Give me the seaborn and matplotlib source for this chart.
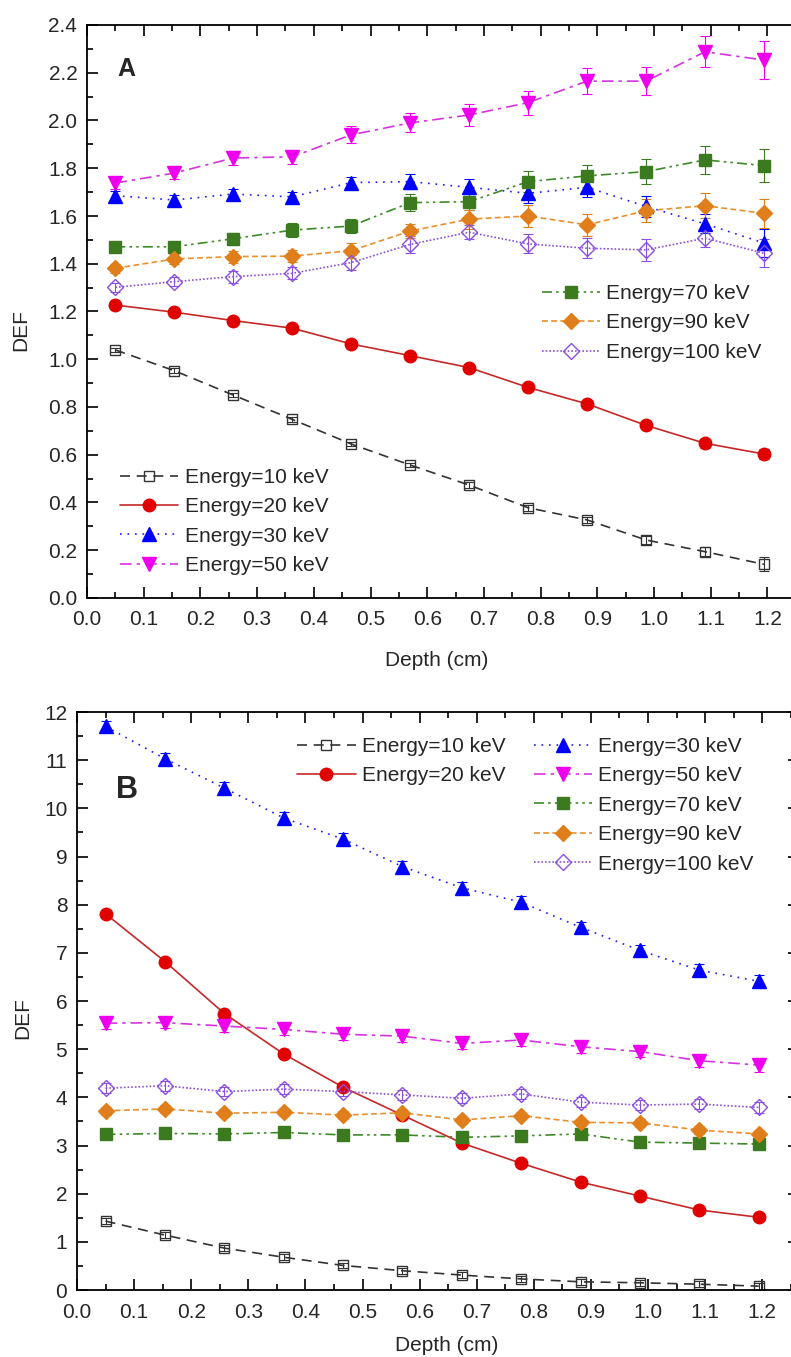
import numpy as np
import pandas as pd
import seaborn as sns
import matplotlib.pyplot as plt
from matplotlib.ticker import MultipleLocator

# --- data ---
depth = [0.05, 0.154, 0.258, 0.362, 0.466, 0.57, 0.674, 0.778, 0.882, 0.986, 1.09, 1.194]
energies = ["10", "20", "30", "50", "70", "90", "100"]

# panel A (DEF values and error bars)
a_10 = [1.039, 0.952, 0.850, 0.748, 0.645, 0.557, 0.473, 0.378, 0.327, 0.243, 0.194, 0.141]
a_20 = [1.227, 1.197, 1.162, 1.130, 1.064, 1.015, 0.965, 0.882, 0.813, 0.723, 0.648, 0.603]
a_30 = [1.685, 1.667, 1.692, 1.680, 1.740, 1.744, 1.720, 1.695, 1.720, 1.640, 1.567, 1.487]
a_50 = [1.738, 1.780, 1.843, 1.848, 1.940, 1.990, 2.023, 2.075, 2.165, 2.165, 2.288, 2.253]
a_70 = [1.471, 1.471, 1.505, 1.541, 1.558, 1.656, 1.660, 1.744, 1.768, 1.786, 1.835, 1.811]
a_90 = [1.381, 1.420, 1.430, 1.432, 1.455, 1.537, 1.587, 1.600, 1.563, 1.622, 1.643, 1.611]
a_100 = [1.301, 1.325, 1.346, 1.360, 1.405, 1.481, 1.532, 1.483, 1.465, 1.458, 1.507, 1.444]

a_10_err = [0.01, 0.01, 0.01, 0.01, 0.01, 0.01, 0.012, 0.012, 0.012, 0.015, 0.02, 0.03]
a_20_err = [0.01, 0.01, 0.01, 0.01, 0.01, 0.01, 0.012, 0.012, 0.015, 0.015, 0.018, 0.02]
a_30_err = [0.02, 0.02, 0.02, 0.02, 0.025, 0.03, 0.035, 0.04, 0.04, 0.043, 0.04, 0.058]
a_50_err = [0.025, 0.025, 0.03, 0.03, 0.035, 0.04, 0.045, 0.05, 0.055, 0.06, 0.066, 0.08]
a_70_err = [0.02, 0.02, 0.025, 0.03, 0.03, 0.035, 0.035, 0.044, 0.045, 0.053, 0.057, 0.068]
a_90_err = [0.02, 0.02, 0.025, 0.025, 0.03, 0.031, 0.04, 0.044, 0.045, 0.049, 0.052, 0.061]
a_100_err = [0.02, 0.02, 0.025, 0.025, 0.03, 0.034, 0.03, 0.04, 0.043, 0.045, 0.036, 0.058]

# panel B
b_10 = [1.43, 1.14, 0.87, 0.68, 0.51, 0.40, 0.31, 0.23, 0.17, 0.15, 0.12, 0.08]
b_20 = [7.81, 6.82, 5.74, 4.90, 4.21, 3.63, 3.05, 2.63, 2.24, 1.95, 1.66, 1.51]
b_30 = [11.70, 11.03, 10.42, 9.80, 9.36, 8.79, 8.35, 8.05, 7.53, 7.05, 6.64, 6.41]
b_50 = [5.54, 5.55, 5.48, 5.41, 5.31, 5.27, 5.12, 5.19, 5.05, 4.95, 4.76, 4.67]
b_70 = [3.23, 3.25, 3.24, 3.27, 3.22, 3.22, 3.17, 3.20, 3.24, 3.07, 3.05, 3.03]
b_90 = [3.72, 3.76, 3.67, 3.69, 3.63, 3.68, 3.53, 3.62, 3.48, 3.47, 3.32, 3.24]
b_100 = [4.19, 4.24, 4.12, 4.17, 4.12, 4.05, 3.98, 4.07, 3.90, 3.84, 3.86, 3.79]

b_10_err = [0.06, 0.06, 0.06, 0.06, 0.06, 0.06, 0.06, 0.06, 0.06, 0.06, 0.06, 0.07]
b_20_err = [0.04, 0.04, 0.04, 0.04, 0.04, 0.04, 0.04, 0.04, 0.04, 0.04, 0.04, 0.05]
b_30_err = [0.12, 0.12, 0.12, 0.12, 0.12, 0.12, 0.12, 0.12, 0.12, 0.12, 0.12, 0.14]
b_50_err = [0.12, 0.12, 0.12, 0.12, 0.12, 0.12, 0.12, 0.12, 0.12, 0.12, 0.12, 0.15]
b_70_err = [0.08, 0.08, 0.08, 0.08, 0.08, 0.08, 0.08, 0.08, 0.08, 0.08, 0.08, 0.08]
b_90_err = [0.08, 0.08, 0.08, 0.08, 0.08, 0.08, 0.08, 0.08, 0.08, 0.08, 0.08, 0.09]
b_100_err = [0.1, 0.1, 0.1, 0.1, 0.1, 0.1, 0.1, 0.1, 0.1, 0.1, 0.1, 0.11]

panel_a = [a_10, a_20, a_30, a_50, a_70, a_90, a_100]
panel_a_err = [a_10_err, a_20_err, a_30_err, a_50_err, a_70_err, a_90_err, a_100_err]
panel_b = [b_10, b_20, b_30, b_50, b_70, b_90, b_100]
panel_b_err = [b_10_err, b_20_err, b_30_err, b_50_err, b_70_err, b_90_err, b_100_err]

# --- styles per energy ---
styles = {
    "10":  dict(color="#333333", mcolor="#333333", marker="s", ms=7, filled=False, ls=(0, (6, 4))),
    "20":  dict(color="#c62828", mcolor="#e00000", marker="o", ms=9, filled=True, ls="-"),
    "30":  dict(color="#1a1aff", mcolor="#0000ff", marker="^", ms=10, filled=True, ls=(0, (1, 3.5))),
    "50":  dict(color="#d633e0", mcolor="#ee00ee", marker="v", ms=10, filled=True, ls=(0, (7, 3, 2, 3))),
    "70":  dict(color="#3c8a28", mcolor="#3b7a1e", marker="s", ms=8.5, filled=True, ls=(0, (6, 2.5, 1.5, 2.5, 1.5, 2.5))),
    "90":  dict(color="#e8902e", mcolor="#e07e1c", marker="D", ms=8.5, filled=True, ls=(0, (3.5, 2))),
    "100": dict(color="#8a4fe0", mcolor="#8a4fe0", marker="D", ms=8.5, filled=False, ls=(0, (1, 1.2))),
}

sns.set_theme(style="ticks")
plt.rcParams['font.family'] = ['Liberation Sans', 'DejaVu Sans']

XMAX = 1.265
fig = plt.figure(figsize=(7.91, 13.57), dpi=100)
ax_a = fig.add_axes([87 / 791, 1 - 598 / 1357, XMAX * 567 / 791, 573 / 1357])
ax_b = fig.add_axes([77 / 791, 1 - 1290 / 1357, XMAX * 571 / 791, 578 / 1357])


def draw_panel(ax, values, errors):
    handles = {}
    for e, vals, errs in zip(energies, values, errors):
        st = styles[e]
        df = pd.DataFrame({"depth": depth, "DEF": vals})
        ax.errorbar(depth, vals, yerr=errs, fmt="none", ecolor=st["mcolor"],
                    elinewidth=0.8, capsize=3.5, capthick=0.8, zorder=1.5)
        sns.lineplot(data=df, x="depth", y="DEF", ax=ax, color=st["color"],
                     linestyle=st["ls"], linewidth=1.2, marker=st["marker"],
                     markersize=st["ms"], markeredgecolor=st["mcolor"],
                     markerfacecolor=st["mcolor"] if st["filled"] else "none",
                     markeredgewidth=1.0, legend=False, zorder=2)
        line = ax.lines[-1]
        line.set_label(f"Energy={e} keV")
        handles[e] = line
    ax.tick_params(which="both", direction="in", top=True, right=True,
                   labelsize=15, width=1.2, color="black")
    ax.tick_params(which="major", length=8)
    ax.tick_params(which="minor", length=4)
    ax.tick_params(axis="x", pad=9)
    ax.tick_params(axis="y", pad=7)
    for s in ax.spines.values():
        s.set_linewidth(1.3)
        s.set_color("black")
    # right frame edge falls outside the cropped picture, only its ticks show
    ax.spines["right"].set_visible(False)
    ax.set_xlim(0, XMAX)
    ax.xaxis.set_major_locator(MultipleLocator(0.1))
    ax.xaxis.set_minor_locator(MultipleLocator(0.05))
    ax.xaxis.set_major_formatter(plt.FuncFormatter(lambda v, p: f"{v:.1f}" if v < 1.21 else ""))
    ax.set_xlabel("Depth (cm)", fontsize=15)
    ax.set_ylabel("DEF", fontsize=15)
    return handles


leg_kw = dict(frameon=False, fontsize=15, handlelength=2.8, handletextpad=0.3,
              labelspacing=0.5, borderpad=0, borderaxespad=0)

# Panel A
h = draw_panel(ax_a, panel_a, panel_a_err)
ax_a.set_ylim(0, 2.4)
ax_a.yaxis.set_major_locator(MultipleLocator(0.2))
ax_a.yaxis.set_minor_locator(MultipleLocator(0.1))
ax_a.yaxis.set_major_formatter(plt.FuncFormatter(lambda v, p: f"{v:.1f}"))
ax_a.text(0.069, 2.216, "A", fontsize=18, fontweight="bold", ha="center", va="center")
leg1 = ax_a.legend([h[e] for e in ["10", "20", "30", "50"]],
                   [f"Energy={e} keV" for e in ["10", "20", "30", "50"]],
                   loc="lower left", bbox_to_anchor=(0.046, 0.04), **leg_kw)
ax_a.add_artist(leg1)
ax_a.legend([h[e] for e in ["70", "90", "100"]],
            [f"Energy={e} keV" for e in ["70", "90", "100"]],
            loc="upper left", bbox_to_anchor=(0.634, 0.548), **leg_kw)
ax_a.xaxis.set_label_coords(0.487, -0.092)
ax_a.yaxis.set_label_coords(-0.079, 0.468)

# Panel B
h = draw_panel(ax_b, panel_b, panel_b_err)
ax_b.set_ylim(0, 12)
ax_b.yaxis.set_major_locator(MultipleLocator(1))
ax_b.yaxis.set_minor_locator(MultipleLocator(0.5))
ax_b.text(0.0876, 10.38, "B", fontsize=22, fontweight="bold", ha="center", va="center")
leg2 = ax_b.legend([h[e] for e in ["10", "20"]],
                   [f"Energy={e} keV" for e in ["10", "20"]],
                   loc="upper left", bbox_to_anchor=(0.305, 0.957), **leg_kw)
ax_b.add_artist(leg2)
ax_b.legend([h[e] for e in ["30", "50", "70", "90", "100"]],
            [f"Energy={e} keV" for e in ["30", "50", "70", "90", "100"]],
            loc="upper left", bbox_to_anchor=(0.632, 0.957), **leg_kw)
ax_b.xaxis.set_label_coords(0.512, -0.080)
ax_b.yaxis.set_label_coords(-0.062, 0.47)

fig.savefig("out.png", dpi=100, facecolor="white")
